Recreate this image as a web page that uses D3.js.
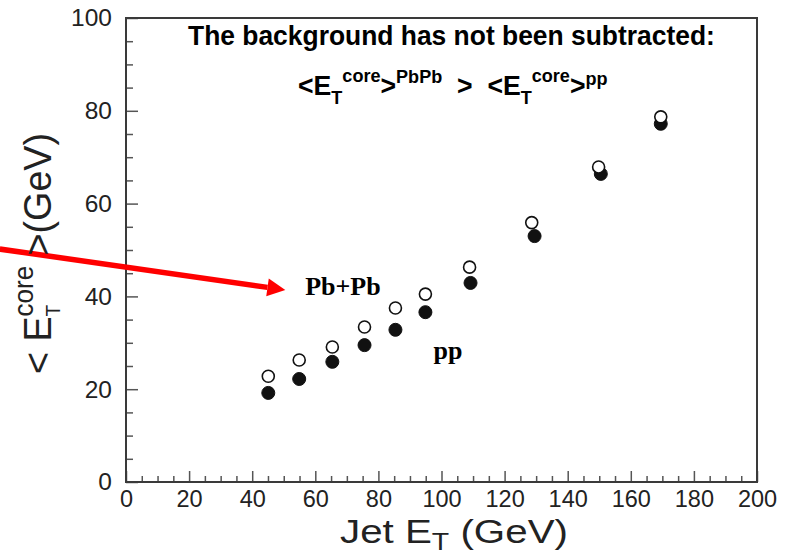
<!DOCTYPE html>
<html>
<head>
<meta charset="utf-8">
<script src="https://cdn.jsdelivr.net/npm/d3@7"></script>
<style>
  body { margin: 0; background: #fff; }
  text { white-space: pre; }
</style>
</head>
<body>
<svg id="chart" width="802" height="556"></svg>
<script>
// Mean core transverse energy vs jet ET, background not subtracted
const jetEtPbPb  = [45.1, 54.9, 65.4, 75.6, 85.4, 94.9, 108.9, 128.6, 149.8, 169.5];
const coreEtPbPb = [22.8, 26.3, 29.1, 33.4, 37.5, 40.5, 46.3, 55.9, 67.9, 78.7];
const jetEtPP    = [45.1, 54.9, 65.4, 75.6, 85.4, 94.9, 109.2, 129.5, 150.5, 169.5];
const coreEtPP   = [19.2, 22.2, 25.9, 29.5, 32.8, 36.6, 42.9, 53.0, 66.4, 77.2];

const xMajorTicks = [0, 20, 40, 60, 80, 100, 120, 140, 160, 180, 200];
const yMajorTicks = [0, 20, 40, 60, 80, 100];
const xMinorTicks = d3.range(0, 201, 5).filter(v => v % 20 !== 0);
const yMinorTicks = d3.range(0, 101, 5).filter(v => v % 20 !== 0);

const W = 802, H = 556;
const margin = { top: 18, right: 45, bottom: 74, left: 126 };
const innerW = W - margin.left - margin.right;
const innerH = H - margin.top - margin.bottom;

const sans = "'Liberation Sans', Arial, Helvetica, sans-serif";
const serif = "'Liberation Serif', 'Times New Roman', serif";

const svg = d3.select("#chart");
const g = svg.append("g").attr("transform", `translate(${margin.left},${margin.top})`);

const x = d3.scaleLinear().domain([0, 200]).range([0, innerW]);
const y = d3.scaleLinear().domain([0, 100]).range([innerH, 0]);

// Axes: ticks point into the frame
const xAxis = g.append("g").attr("transform", `translate(0,${innerH})`)
  .call(d3.axisBottom(x).tickValues(xMajorTicks).tickSize(-11).tickPadding(8).tickFormat(d3.format("d")));
const xMinor = g.append("g").attr("transform", `translate(0,${innerH})`)
  .call(d3.axisBottom(x).tickValues(xMinorTicks).tickSize(-6).tickFormat(""));
const yAxis = g.append("g")
  .call(d3.axisLeft(y).tickValues(yMajorTicks).tickSize(-12).tickPadding(14).tickFormat(d3.format("d")));
const yMinor = g.append("g")
  .call(d3.axisLeft(y).tickValues(yMinorTicks).tickSize(-7).tickFormat(""));

[xAxis, xMinor, yAxis, yMinor].forEach(a => {
  a.select(".domain").remove();
  a.selectAll(".tick line").attr("stroke", "#555").attr("stroke-width", 1.5);
});
xAxis.selectAll(".tick text").attr("font-family", sans).attr("font-size", 23.5).attr("fill", "#222");
yAxis.selectAll(".tick text").attr("font-family", sans).attr("font-size", 24.5).attr("fill", "#222");

// Frame
g.append("rect").attr("x", 0).attr("y", 0).attr("width", innerW).attr("height", innerH)
  .attr("fill", "none").attr("stroke", "#3a3a3a").attr("stroke-width", 2);

// Builds a text line out of styled pieces and stretches it horizontally to a width
function richText(parent, parts, opt) {
  const grp = parent.append("g");
  const t = grp.append("text")
    .attr("font-family", opt.family)
    .attr("font-weight", opt.weight || "normal")
    .attr("fill", opt.fill || "#000");
  let prev = null;
  parts.forEach(p => {
    const ts = t.append("tspan").text(p.t).attr("font-size", p.size);
    if (p.dy) ts.attr("dy", p.dy);
    let dx = p.dx || 0;
    if (p.under && prev) dx -= prev.node().getComputedTextLength();
    if (dx) ts.attr("dx", dx);
    prev = ts;
  });
  const bb = t.node().getBBox();
  const s = opt.width ? opt.width / bb.width : 1;
  t.attr("x", -bb.x);
  const rot = opt.rotate ? ` rotate(${opt.rotate})` : "";
  grp.attr("transform", `translate(${opt.x},${opt.y})${rot} scale(${s},1)`);
  return grp;
}

// Header lines
richText(svg, [{ t: "The background has not been subtracted:", size: 27 }],
  { family: sans, weight: "bold", x: 188, y: 45, width: 527 });

richText(svg, [
  { t: "<E", size: 28 },
  { t: "T", size: 19, dy: 9 },
  { t: "core", size: 19, dy: -22 },
  { t: ">", size: 28, dy: 13 },
  { t: "PbPb", size: 19, dy: -12 },
  { t: "  >  <E", size: 28, dy: 12 },
  { t: "T", size: 19, dy: 9 },
  { t: "core", size: 19, dy: -22 },
  { t: ">", size: 28, dy: 13 },
  { t: "pp", size: 19, dy: -10 }
], { family: sans, weight: "bold", x: 298, y: 95, width: 307 });

// Series labels
g.append("text").attr("x", x(56.8)).attr("y", y(40.3))
  .attr("font-family", serif).attr("font-weight", "bold").attr("font-size", 26).text("Pb+Pb");
g.append("text").attr("x", x(97.5)).attr("y", y(26.5))
  .attr("font-family", serif).attr("font-weight", "bold").attr("font-size", 26).text("pp");

// Points: pp filled, Pb+Pb open drawn on top
const ppData = jetEtPP.map((v, i) => [v, coreEtPP[i]]);
const pbData = jetEtPbPb.map((v, i) => [v, coreEtPbPb[i]]);
g.append("g").selectAll("circle").data(ppData).join("circle")
  .attr("cx", d => x(d[0])).attr("cy", d => y(d[1])).attr("r", 6.5)
  .attr("fill", "#111").attr("stroke", "#111").attr("stroke-width", 1);
g.append("g").selectAll("circle").data(pbData).join("circle")
  .attr("cx", d => x(d[0])).attr("cy", d => y(d[1])).attr("r", 6)
  .attr("fill", "#fff").attr("stroke", "#111").attr("stroke-width", 1.6);

// Axis titles
richText(svg, [
  { t: "Jet E", size: 34 },
  { t: "T", size: 24, dy: 7 },
  { t: " (GeV)", size: 34, dy: -7 }
], { family: sans, x: 340, y: 543, width: 228, fill: "#222" });

richText(svg, [
  { t: "< E", size: 39 },
  { t: "T", size: 20, dy: 9 },
  { t: "core", size: 27, dy: -27, under: true },
  { t: " >(GeV)", size: 39, dy: 18 }
], { family: sans, x: 51, y: 374, rotate: -90, width: 241, fill: "#222" });

// Red arrow pointing at the Pb+Pb points
const a0 = [x(-40), y(50.2)], a1 = [x(50.5), y(41.4)];
const ang = Math.atan2(a1[1] - a0[1], a1[0] - a0[0]);
const headLen = 18, headHalf = 9;
const base = [a1[0] - headLen * Math.cos(ang), a1[1] - headLen * Math.sin(ang)];
g.append("line").attr("x1", a0[0]).attr("y1", a0[1]).attr("x2", base[0]).attr("y2", base[1])
  .attr("stroke", "#ff0000").attr("stroke-width", 5.5);
g.append("polygon").attr("fill", "#ff0000").attr("points", [
  a1,
  [base[0] + headHalf * Math.sin(ang), base[1] - headHalf * Math.cos(ang)],
  [base[0] - headHalf * Math.sin(ang), base[1] + headHalf * Math.cos(ang)]
].map(p => p.join(",")).join(" "));
</script>
</body>
</html>
